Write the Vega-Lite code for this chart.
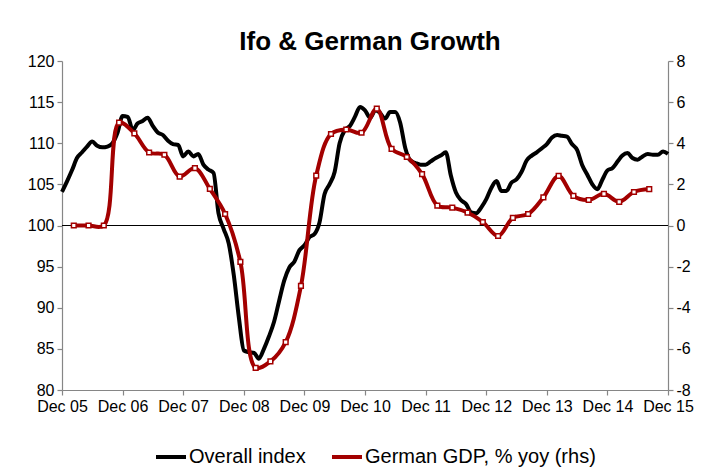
{
  "$schema": "https://vega.github.io/schema/vega-lite/v6.json",
  "width": 606,
  "height": 329,
  "autosize": "none",
  "padding": {"left": 62, "top": 61, "right": 34, "bottom": 81},
  "background": "white",
  "config": {
    "font": "Liberation Sans",
    "view": {"stroke": null},
    "axis": {"labelColor": "black", "domainColor": "#868686", "tickColor": "#868686", "domainWidth": 1.2, "tickWidth": 1.2, "grid": false, "labelFontSize": 16, "tickSize": 5, "labelFlush": false, "labelOverlap": false, "labelBound": false, "title": null},
    "legend": {"labelFontSize": 20, "labelColor": "black", "labelLimit": 0, "symbolType": "stroke", "symbolStrokeWidth": 4, "symbolSize": 900, "columnPadding": 18, "labelOffset": 1}
  },
  "title": {"text": "Ifo & German Growth", "fontSize": 26, "fontWeight": "bold", "anchor": "middle", "frame": "group", "color": "black", "offset": 12, "dy": 14, "dx": 5},
  "resolve": {"scale": {"y": "independent"}},
  "layer": [
    {
      "data": {
        "values": [
          {"d": "2005-12", "v": 104.1},
          {"d": "2006-01", "v": 105.4}, {"d": "2006-02", "v": 106.8}, {"d": "2006-03", "v": 108.2}, {"d": "2006-04", "v": 108.9}, {"d": "2006-05", "v": 109.6}, {"d": "2006-06", "v": 110.2}, {"d": "2006-07", "v": 109.7}, {"d": "2006-08", "v": 109.5}, {"d": "2006-09", "v": 109.6}, {"d": "2006-10", "v": 110.0}, {"d": "2006-11", "v": 111.3}, {"d": "2006-12", "v": 113.3},
          {"d": "2007-01", "v": 113.2}, {"d": "2007-02", "v": 111.6}, {"d": "2007-03", "v": 112.4}, {"d": "2007-04", "v": 112.7}, {"d": "2007-05", "v": 113.1}, {"d": "2007-06", "v": 112.1}, {"d": "2007-07", "v": 111.3}, {"d": "2007-08", "v": 111.0}, {"d": "2007-09", "v": 110.3}, {"d": "2007-10", "v": 109.9}, {"d": "2007-11", "v": 109.8}, {"d": "2007-12", "v": 108.4},
          {"d": "2008-01", "v": 109.0}, {"d": "2008-02", "v": 108.4}, {"d": "2008-03", "v": 108.7}, {"d": "2008-04", "v": 107.4}, {"d": "2008-05", "v": 106.8}, {"d": "2008-06", "v": 106.4}, {"d": "2008-07", "v": 101.5}, {"d": "2008-08", "v": 99.6}, {"d": "2008-09", "v": 97.8}, {"d": "2008-10", "v": 94.0}, {"d": "2008-11", "v": 88.8}, {"d": "2008-12", "v": 84.8},
          {"d": "2009-01", "v": 84.6}, {"d": "2009-02", "v": 84.5}, {"d": "2009-03", "v": 83.8}, {"d": "2009-04", "v": 85.0}, {"d": "2009-05", "v": 86.5}, {"d": "2009-06", "v": 88.3}, {"d": "2009-07", "v": 90.8}, {"d": "2009-08", "v": 93.3}, {"d": "2009-09", "v": 94.9}, {"d": "2009-10", "v": 95.6}, {"d": "2009-11", "v": 97.0}, {"d": "2009-12", "v": 97.6},
          {"d": "2010-01", "v": 98.6}, {"d": "2010-02", "v": 99.0}, {"d": "2010-03", "v": 100.3}, {"d": "2010-04", "v": 103.8}, {"d": "2010-05", "v": 105.0}, {"d": "2010-06", "v": 106.5}, {"d": "2010-07", "v": 110.0}, {"d": "2010-08", "v": 111.6}, {"d": "2010-09", "v": 112.1}, {"d": "2010-10", "v": 113.2}, {"d": "2010-11", "v": 114.4}, {"d": "2010-12", "v": 114.0},
          {"d": "2011-01", "v": 113.1}, {"d": "2011-02", "v": 114.0}, {"d": "2011-03", "v": 113.7}, {"d": "2011-04", "v": 113.0}, {"d": "2011-05", "v": 113.8}, {"d": "2011-06", "v": 113.8}, {"d": "2011-07", "v": 112.5}, {"d": "2011-08", "v": 109.4}, {"d": "2011-09", "v": 107.9}, {"d": "2011-10", "v": 107.6}, {"d": "2011-11", "v": 107.4}, {"d": "2011-12", "v": 107.4},
          {"d": "2012-01", "v": 107.8}, {"d": "2012-02", "v": 108.2}, {"d": "2012-03", "v": 108.5}, {"d": "2012-04", "v": 108.9}, {"d": "2012-05", "v": 106.1}, {"d": "2012-06", "v": 104.0}, {"d": "2012-07", "v": 103.1}, {"d": "2012-08", "v": 102.6}, {"d": "2012-09", "v": 101.6}, {"d": "2012-10", "v": 101.5}, {"d": "2012-11", "v": 102.2}, {"d": "2012-12", "v": 103.2},
          {"d": "2013-01", "v": 104.6}, {"d": "2013-02", "v": 105.4}, {"d": "2013-03", "v": 104.2}, {"d": "2013-04", "v": 104.2}, {"d": "2013-05", "v": 105.2}, {"d": "2013-06", "v": 105.6}, {"d": "2013-07", "v": 106.5}, {"d": "2013-08", "v": 107.9}, {"d": "2013-09", "v": 108.5}, {"d": "2013-10", "v": 108.9}, {"d": "2013-11", "v": 109.4}, {"d": "2013-12", "v": 109.9},
          {"d": "2014-01", "v": 110.7}, {"d": "2014-02", "v": 111.0}, {"d": "2014-03", "v": 110.9}, {"d": "2014-04", "v": 110.8}, {"d": "2014-05", "v": 109.9}, {"d": "2014-06", "v": 109.2}, {"d": "2014-07", "v": 107.4}, {"d": "2014-08", "v": 106.2}, {"d": "2014-09", "v": 105.0}, {"d": "2014-10", "v": 104.4}, {"d": "2014-11", "v": 105.6}, {"d": "2014-12", "v": 106.7},
          {"d": "2015-01", "v": 107.0}, {"d": "2015-02", "v": 107.8}, {"d": "2015-03", "v": 108.5}, {"d": "2015-04", "v": 108.8}, {"d": "2015-05", "v": 108.2}, {"d": "2015-06", "v": 108.0}, {"d": "2015-07", "v": 108.4}, {"d": "2015-08", "v": 108.7}, {"d": "2015-09", "v": 108.6}, {"d": "2015-10", "v": 108.6}, {"d": "2015-11", "v": 109.0}, {"d": "2015-12", "v": 108.7}
        ],
        "format": {"parse": {"d": "date:'%Y-%m'"}}
      },
      "layer": [
        {
          "mark": {"type": "rule", "color": "black", "strokeWidth": 1},
          "encoding": {"y": {"datum": 100}}
        },
        {
          "mark": {"type": "line", "strokeWidth": 4, "interpolate": "monotone"},
          "encoding": {
            "x": {
              "field": "d", "type": "temporal",
              "scale": {"domain": [{"year": 2005, "month": 12, "date": 1}, {"year": 2015, "month": 12, "date": 1}]},
              "axis": {
                "format": "%b %y", "labelPadding": 3,
                "values": [
                  {"year": 2005, "month": 12, "date": 1}, {"year": 2006, "month": 12, "date": 1}, {"year": 2007, "month": 12, "date": 1}, {"year": 2008, "month": 12, "date": 1}, {"year": 2009, "month": 12, "date": 1}, {"year": 2010, "month": 12, "date": 1}, {"year": 2011, "month": 12, "date": 1}, {"year": 2012, "month": 12, "date": 1}, {"year": 2013, "month": 12, "date": 1}, {"year": 2014, "month": 12, "date": 1}, {"year": 2015, "month": 12, "date": 1}
                ]
              }
            },
            "y": {
              "field": "v", "type": "quantitative",
              "scale": {"domain": [80, 120], "nice": false, "zero": false},
              "axis": {"orient": "left", "values": [80, 85, 90, 95, 100, 105, 110, 115, 120], "labelPadding": 3}
            },
            "color": {
              "datum": "Overall index",
              "scale": {"domain": ["Overall index", "German GDP, % yoy (rhs)"], "range": ["black", "#A30000"]},
              "legend": {"orient": "none", "legendX": 92, "legendY": 379, "direction": "horizontal", "title": null}
            }
          }
        }
      ]
    },
    {
      "data": {
        "values": [
          {"d": "2006-02-10", "g": 0.0}, {"d": "2006-05-10", "g": 0.0}, {"d": "2006-08-10", "g": 0.0}, {"d": "2006-11-10", "g": 5.0},
          {"d": "2007-02-10", "g": 4.48}, {"d": "2007-05-10", "g": 3.55}, {"d": "2007-08-10", "g": 3.44}, {"d": "2007-11-10", "g": 2.38},
          {"d": "2008-02-10", "g": 2.79}, {"d": "2008-05-10", "g": 1.78}, {"d": "2008-08-10", "g": 0.56}, {"d": "2008-11-10", "g": -1.77},
          {"d": "2009-02-10", "g": -6.92}, {"d": "2009-05-10", "g": -6.61}, {"d": "2009-08-10", "g": -5.67}, {"d": "2009-11-10", "g": -2.94},
          {"d": "2010-02-10", "g": 2.43}, {"d": "2010-05-10", "g": 4.45}, {"d": "2010-08-10", "g": 4.67}, {"d": "2010-11-10", "g": 4.51},
          {"d": "2011-02-10", "g": 5.68}, {"d": "2011-05-10", "g": 3.73}, {"d": "2011-08-10", "g": 3.33}, {"d": "2011-11-10", "g": 2.5},
          {"d": "2012-02-10", "g": 0.97}, {"d": "2012-05-10", "g": 0.87}, {"d": "2012-08-10", "g": 0.63}, {"d": "2012-11-10", "g": 0.17},
          {"d": "2013-02-10", "g": -0.51}, {"d": "2013-05-10", "g": 0.37}, {"d": "2013-08-10", "g": 0.56}, {"d": "2013-11-10", "g": 1.37},
          {"d": "2014-02-10", "g": 2.41}, {"d": "2014-05-10", "g": 1.44}, {"d": "2014-08-10", "g": 1.24}, {"d": "2014-11-10", "g": 1.54},
          {"d": "2015-02-10", "g": 1.15}, {"d": "2015-05-10", "g": 1.63}, {"d": "2015-08-10", "g": 1.77}
        ],
        "format": {"parse": {"d": "date:'%Y-%m-%d'"}}
      },
      "encoding": {
        "x": {"field": "d", "type": "temporal"},
        "y": {
          "field": "g", "type": "quantitative",
          "scale": {"domain": [-8, 8], "nice": false, "zero": false},
          "axis": {"orient": "right", "values": [-8, -6, -4, -2, 0, 2, 4, 6, 8], "labelPadding": 3, "labelExpr": "replace(datum.label, '\u2212', '-')"}
        }
      },
      "layer": [
        {
          "mark": {"type": "line", "strokeWidth": 4, "interpolate": "catmull-rom"},
          "encoding": {"color": {"datum": "German GDP, % yoy (rhs)"}}
        },
        {
          "mark": {"type": "point", "shape": "square", "filled": true, "fill": "white", "stroke": "#A30000", "strokeWidth": 1.5, "size": 22, "opacity": 1}
        }
      ]
    }
  ]
}
